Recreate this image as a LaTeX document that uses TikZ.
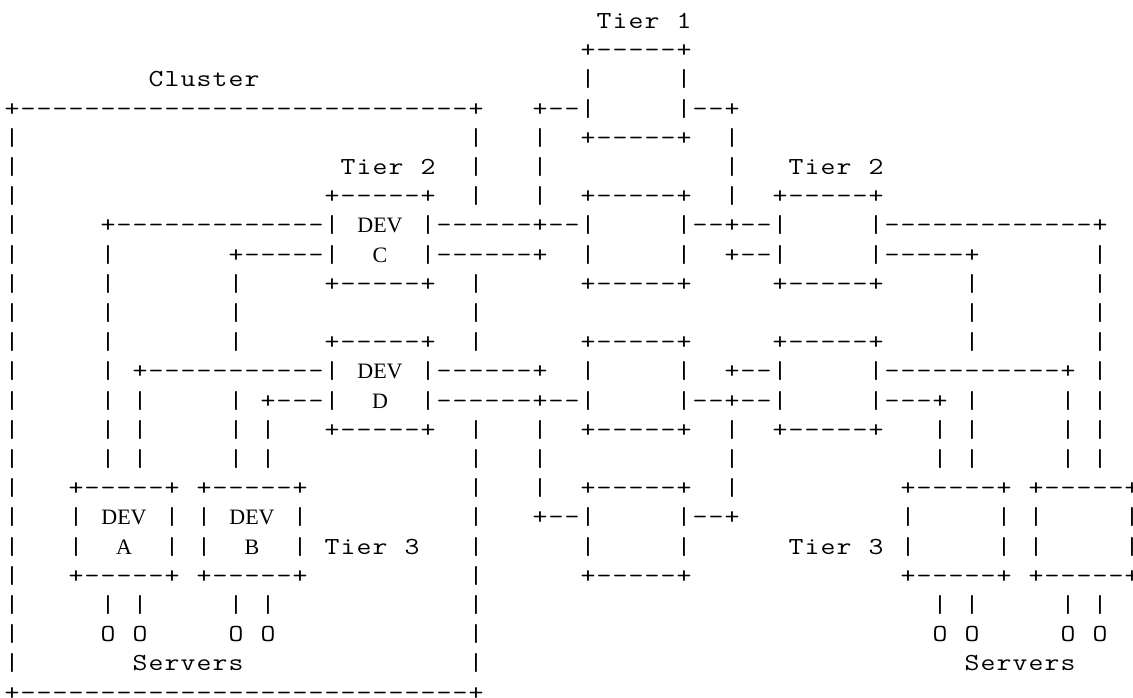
\documentclass[tikz,border=0pt]{standalone}
\usepackage{graphicx}
\usepackage{fontspec}
\newfontfamily\devfont{Liberation Serif}
\newcounter{segc}
\ExplSyntaxOn
\newcommand\dsh[1]{\prg_replicate:nn{#1}{-}}
\str_new:N \l_ascii_row_str
\NewDocumentCommand\asciichars{m}{
  \str_set:Nx \l_ascii_row_str {#1}
  \str_map_inline:Nn \l_ascii_row_str {
    \makebox[16pt][c]{\str_if_eq:nnF{##1}{.}{\scalebox{1.18}[1]{##1}}}
  }
}
\ExplSyntaxOff
\tikzset{
  ascii/.style={anchor=base west, inner sep=0pt, outer sep=0pt,
    font=\fontsize{24.5}{29}\selectfont\ttfamily},
  devlbl/.style={anchor=base, inner sep=0pt, outer sep=0pt,
    font=\fontsize{22}{26}\selectfont\devfont}
}
\newcommand\seg[3]{\stepcounter{segc}\node[ascii] (s\arabic{segc}) at ({4+16*(#2)},{-(28.4+29.2*(#1))}) {\asciichars{#3}};}
\newcommand\lbl[3]{\stepcounter{segc}\node[devlbl] (s\arabic{segc}) at ({12+16*(#2)},{-(28.4+29.2*(#1))}) {#3};}
\newcommand\bars[2]{\foreach \cc in {#2} {\seg{#1}{\cc}{|}}}
\begin{document}
\begin{tikzpicture}[x=1pt,y=1pt]
\fill[white] (0,0) rectangle (1133,-697);
\useasboundingbox (0,0) rectangle (1133,-697);
% row 0-3
\seg{0}{37}{Tier.1}
\seg{1}{36}{+-----+}
\seg{2}{9}{Cluster}
\seg{2}{36}{|.....|}
\seg{3}{0}{+\dsh{28}+}
\seg{3}{33}{+--|}
\seg{3}{42}{|--+}
% row 4-6
\bars{4}{0,29,33,45}
\seg{4}{36}{+-----+}
\bars{5}{0,29,33,45}
\seg{5}{21}{Tier.2}
\seg{5}{49}{Tier.2}
\bars{6}{0,29,33,45}
\seg{6}{20}{+-----+}
\seg{6}{36}{+-----+}
\seg{6}{48}{+-----+}
% row 7
\bars{7}{0}
\seg{7}{6}{+\dsh{13}|}
\lbl{7}{23}{DEV}
\seg{7}{26}{|\dsh{6}+--|}
\seg{7}{42}{|--+--|}
\seg{7}{54}{|\dsh{13}+}
% row 8
\bars{8}{0,6,36,42,68}
\seg{8}{14}{+-----|}
\lbl{8}{23}{C}
\seg{8}{26}{|\dsh{6}+}
\seg{8}{45}{+--|}
\seg{8}{54}{|-----+}
% row 9-11
\bars{9}{0,6,14,29,60,68}
\seg{9}{20}{+-----+}
\seg{9}{36}{+-----+}
\seg{9}{48}{+-----+}
\bars{10}{0,6,14,29,60,68}
\bars{11}{0,6,14,29,60,68}
\seg{11}{20}{+-----+}
\seg{11}{36}{+-----+}
\seg{11}{48}{+-----+}
% row 12
\bars{12}{0,6,36,42,68}
\seg{12}{8}{+\dsh{11}|}
\lbl{12}{23}{DEV}
\seg{12}{26}{|\dsh{6}+}
\seg{12}{45}{+--|}
\seg{12}{54}{|\dsh{11}+}
% row 13
\bars{13}{0,6,8,14,60,66,68}
\seg{13}{16}{+---|}
\lbl{13}{23}{D}
\seg{13}{26}{|\dsh{6}+--|}
\seg{13}{42}{|--+--|}
\seg{13}{54}{|---+}
% row 14-15
\bars{14}{0,6,8,14,16,29,33,45,58,60,66,68}
\seg{14}{20}{+-----+}
\seg{14}{36}{+-----+}
\seg{14}{48}{+-----+}
\bars{15}{0,6,8,14,16,29,33,45,58,60,66,68}
% row 16
\bars{16}{0,29,33,45}
\seg{16}{4}{+-----+}
\seg{16}{12}{+-----+}
\seg{16}{36}{+-----+}
\seg{16}{56}{+-----+}
\seg{16}{64}{+-----+}
% row 17
\bars{17}{0,4,10,12,18,29,56,62,64,70}
\lbl{17}{7}{DEV}
\lbl{17}{15}{DEV}
\seg{17}{33}{+--|}
\seg{17}{42}{|--+}
% row 18
\bars{18}{0,4,10,12,18,29,36,42,56,62,64,70}
\lbl{18}{7}{A}
\lbl{18}{15}{B}
\seg{18}{20}{Tier.3}
\seg{18}{49}{Tier.3}
% row 19
\bars{19}{0,29}
\seg{19}{4}{+-----+}
\seg{19}{12}{+-----+}
\seg{19}{36}{+-----+}
\seg{19}{56}{+-----+}
\seg{19}{64}{+-----+}
% row 20-23
\bars{20}{0,6,8,14,16,29,58,60,66,68}
\bars{21}{0,29}
\foreach \cc in {6,8,14,16,58,60,66,68} {\seg{21}{\cc}{O}}
\bars{22}{0,29}
\seg{22}{8}{Servers}
\seg{22}{60}{Servers}
\seg{23}{0}{+\dsh{28}+}
\end{tikzpicture}
\end{document}
